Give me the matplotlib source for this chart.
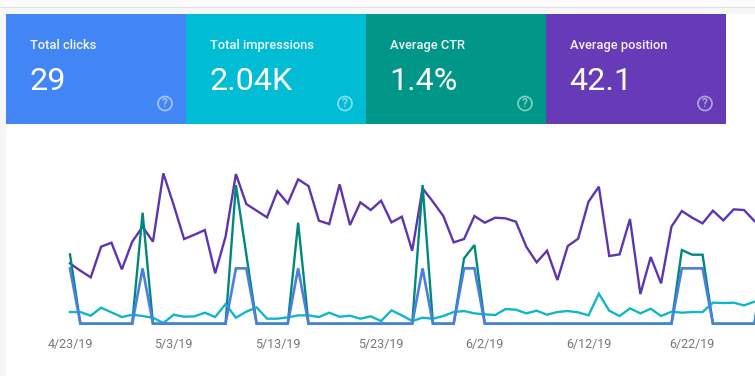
import matplotlib
matplotlib.use("Agg")
import matplotlib.pyplot as plt
import pandas as pd
from matplotlib.patches import Rectangle, Circle

plt.rcParams['font.family'] = ['Roboto', 'DejaVu Sans']

W, H = 755, 376

titles = ["Total clicks", "Total impressions", "Average CTR", "Average position"]
totals = ["29", "2.04K", "1.4%", "42.1"]
card_colors = ["#4285f4", "#00bcd4", "#009688", "#673ab7"]

dates = pd.date_range("2019-04-23", periods=68, freq="D")
tick_labels = ["4/23/19", "5/3/19", "5/13/19", "5/23/19", "6/2/19", "6/12/19", "6/22/19"]

# Series heights above the chart baseline, in relative chart units
position = [181, 159, 139, 231, 243, 163, 246, 291, 246, 451, 356, 254, 267, 281, 151, 261, 449, 359, 339, 319,
            398, 361, 433, 413, 309, 299, 418, 296, 364, 341, 369, 304, 321, 219, 406, 366, 323, 244, 254, 323,
            303, 318, 316, 306, 231, 184, 219, 131, 233, 255, 366, 411, 203, 208, 314, 89, 200, 121, 291, 338,
            318, 301, 339, 310, 343, 341, 308, 290]
impressions = [35, 35, 24, 48, 34, 20, 27, 23, 18, 2, 27, 21, 22, 33, 20, 59, 18, 36, 49, 15,
               15, 19, 25, 25, 20, 33, 21, 24, 15, 22, 8, 40, 25, 8, 18, 15, 23, 35, 38, 31,
               28, 26, 44, 42, 31, 39, 27, 35, 38, 34, 25, 90, 39, 23, 46, 31, 45, 23, 36, 33,
               35, 35, 63, 62, 63, 55, 66, 73]
ctr = [208, 0, 0, 0, 0, 0, 0, 333, 0, 0, 0, 0, 0, 0, 0, 0, 416, 208, 0, 0,
       0, 0, 303, 0, 0, 0, 0, 0, 0, 0, 0, 0, 0, 0, 416, 0, 0, 0, 196, 236,
       0, 0, 0, 0, 0, 0, 0, 0, 0, 0, 0, 0, 0, 0, 0, 0, 0, 0, 0, 221,
       207, 207, 0, 0, 0, 0, 0, 207]
clicks = [166, 0, 0, 0, 0, 0, 0, 166, 0, 0, 0, 0, 0, 0, 0, 0, 166, 166, 0, 0,
          0, 0, 166, 0, 0, 0, 0, 0, 0, 0, 0, 0, 0, 0, 166, 0, 0, 0, 166, 166,
          0, 0, 0, 0, 0, 0, 0, 0, 0, 0, 0, 0, 0, 0, 0, 0, 0, 0, 0, 166,
          166, 166, 0, 0, 0, 0, 0, 166]

fig = plt.figure(figsize=(W / 100, H / 100), dpi=100, facecolor="#f6f6f6")


def px_axes(x0, y0, x1, y1):
    return fig.add_axes([x0 / W, 1 - y1 / H, (x1 - x0) / W, (y1 - y0) / H])


# page background
bg = px_axes(0, 0, W, H)
bg.set_xlim(0, W)
bg.set_ylim(H, 0)
bg.axis("off")
bg.add_patch(Rectangle((0, 0), W, 7, fc="#fbfbfb", ec="none"))
bg.add_patch(Rectangle((0, 7), W, 1.2, fc="#dedede", ec="none"))
bg.add_patch(Rectangle((6, 14), W - 6, H - 14, fc="white", ec="none"))

for i, (t, v, c) in enumerate(zip(titles, totals, card_colors)):
    x = 6 + 180 * i
    bg.add_patch(Rectangle((x, 14), 180, 110, fc=c, ec="none"))
    bg.text(x + 24, 45.5, t, color="white", fontsize=9.3, fontweight="medium", va="center", ha="left", alpha=0.95)
    bg.text(x + 23.5, 81.5, v, color="white", fontsize=23.2, va="center", ha="left")
    cx, cy = x + 159, 103.5
    bg.add_patch(Circle((cx, cy), 7, fc="none", ec="white", lw=1.3, alpha=0.5))
    bg.text(cx, cy + 0.3, "?", color="white", alpha=0.5, fontsize=8.5, fontweight="bold", ha="center", va="center")

# chart: 10.37 px per day, baseline at y=323.7
ax = px_axes(70, 160, W, 323.7)
ax.patch.set_alpha(0)
days = (dates - dates[0]).days.to_numpy()
ax.set_xlim(0, (W - 70) / 10.37)
ax.set_ylim(0, 163.7 * 3)
for s in ax.spines.values():
    s.set_visible(False)
ax.set_yticks([])
ax.set_xticks(days[:66:10])
ax.set_xticklabels(tick_labels, color="#757575", fontsize=9)
ax.tick_params(axis="x", length=0, pad=10.5)

ax.plot(days, impressions, color="#12b5cb", lw=1.7, clip_on=False, zorder=4, solid_joinstyle="miter")
ax.plot(days, position, color="#5e35b1", lw=1.7, clip_on=False, zorder=2, solid_joinstyle="miter")
ax.plot(days, ctr, color="#00897b", lw=1.7, clip_on=False, zorder=3, solid_joinstyle="miter")
ax.plot(days, clicks, color="#4a7fe0", lw=1.9, clip_on=False, zorder=5, solid_joinstyle="miter")

fig.savefig("out.png", dpi=100, facecolor=fig.get_facecolor())
